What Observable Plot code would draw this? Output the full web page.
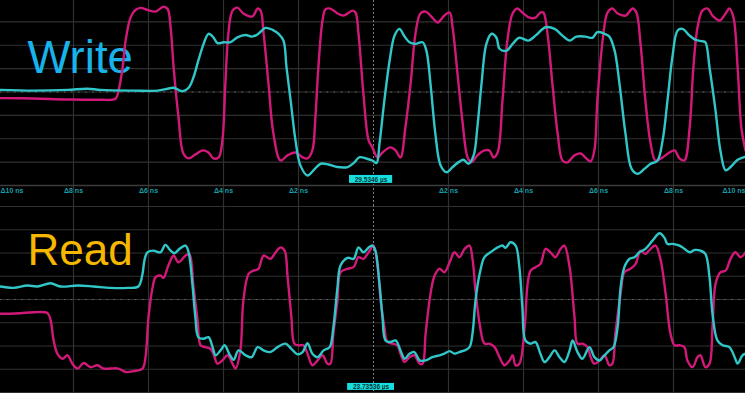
<!DOCTYPE html>
<html><head><meta charset="utf-8">
<script src="https://cdn.jsdelivr.net/npm/d3@7"></script>
<script src="https://cdn.jsdelivr.net/npm/@observablehq/plot@0.6"></script>
<style>
html,body{margin:0;padding:0;background:#000;}
#chart{width:745px;height:393px;overflow:hidden;background:#000;}
#chart svg{display:block;}
</style></head><body><div id="chart"></div>
<script>
// time in ns (relative to trigger), amplitude in divisions
const writeMagenta = [[-9.95,-0.26],[-9.07,-0.28],[-8.16,-0.32],[-7.28,-0.33],[-6.88,-0.29],[-6.80,0.06],[-6.69,1.05],[-6.61,2.20],[-6.48,3.18],[-6.35,3.51],[-6.21,3.60],[-6.03,3.51],[-5.81,3.44],[-5.60,3.65],[-5.49,3.55],[-5.41,2.76],[-5.33,1.05],[-5.20,-1.09],[-5.07,-2.63],[-4.93,-2.84],[-4.75,-2.67],[-4.56,-2.50],[-4.40,-2.59],[-4.27,-2.84],[-4.13,-2.80],[-4.03,-2.07],[-3.95,0.36],[-3.87,2.50],[-3.76,3.48],[-3.63,3.61],[-3.47,3.36],[-3.23,3.23],[-3.09,3.57],[-3.01,3.48],[-2.93,2.50],[-2.80,0.36],[-2.67,-1.77],[-2.48,-2.93],[-2.29,-2.71],[-2.08,-2.59],[-1.89,-2.80],[-1.76,-2.84],[-1.63,-2.50],[-1.55,-1.09],[-1.47,1.05],[-1.36,3.06],[-1.28,3.53],[-1.15,3.57],[-0.96,3.36],[-0.80,3.27],[-0.56,3.48],[-0.48,3.40],[-0.40,2.50],[-0.27,-0.06],[-0.13,-2.07],[-0.03,-2.37],[0.11,-2.80],[0.24,-2.59],[0.45,-2.37],[0.59,-2.50],[0.72,-2.80],[0.85,-1.52],[0.99,0.36],[1.12,2.50],[1.25,3.36],[1.39,3.44],[1.57,3.18],[1.71,2.97],[1.89,3.27],[2.03,3.40],[2.11,2.76],[2.24,0.79],[2.37,-1.22],[2.51,-2.80],[2.61,-3.01],[2.77,-2.71],[2.96,-2.50],[3.09,-2.50],[3.20,-2.80],[3.31,-2.59],[3.44,-0.36],[3.57,2.20],[3.71,3.36],[3.84,3.57],[3.97,3.40],[4.16,3.18],[4.32,3.18],[4.45,3.40],[4.53,3.40],[4.64,2.50],[4.77,0.36],[4.91,-1.77],[5.04,-2.93],[5.17,-3.01],[5.36,-2.71],[5.52,-2.63],[5.65,-2.80],[5.79,-2.97],[5.89,-2.50],[5.97,-0.36],[6.11,2.20],[6.24,3.40],[6.37,3.57],[6.51,3.36],[6.72,3.27],[6.91,3.57],[7.01,3.40],[7.12,2.07],[7.25,-0.36],[7.39,-2.20],[7.52,-2.93],[7.71,-2.80],[7.89,-2.59],[8.03,-2.50],[8.16,-2.84],[8.29,-2.93],[8.43,-1.52],[8.53,1.05],[8.64,2.76],[8.77,3.48],[8.91,3.57],[9.04,3.27],[9.23,3.06],[9.39,3.36],[9.49,3.57],[9.60,3.18],[9.71,1.05],[9.81,-1.52],[9.92,-2.50]];
const writeCyan = [[-9.95,0.09],[-9.07,0.06],[-8.16,0.09],[-7.63,0.14],[-7.28,0.09],[-6.40,0.06],[-5.76,0.06],[-5.49,0.14],[-5.33,0.18],[-5.09,0.03],[-4.93,0.18],[-4.80,0.63],[-4.67,1.35],[-4.53,2.06],[-4.40,2.49],[-4.27,2.34],[-4.16,2.09],[-4.00,2.13],[-3.81,2.13],[-3.63,2.34],[-3.41,2.44],[-3.23,2.37],[-3.07,2.49],[-2.88,2.74],[-2.69,2.66],[-2.53,2.49],[-2.40,2.20],[-2.32,1.06],[-2.21,-0.36],[-2.08,-2.07],[-1.95,-3.14],[-1.76,-3.57],[-1.60,-3.35],[-1.41,-3.07],[-1.20,-3.10],[-0.96,-3.21],[-0.69,-3.21],[-0.53,-3.04],[-0.37,-2.79],[-0.19,-2.85],[-0.03,-2.93],[0.08,-3.04],[0.16,-2.21],[0.29,-0.36],[0.43,1.35],[0.56,2.41],[0.69,2.70],[0.83,2.37],[0.96,2.13],[1.12,2.06],[1.31,2.13],[1.41,1.77],[1.52,0.35],[1.65,-1.79],[1.79,-3.14],[1.95,-3.43],[2.11,-3.21],[2.27,-3.00],[2.40,-2.90],[2.53,-3.07],[2.67,-2.71],[2.77,-1.50],[2.88,0.35],[3.01,2.06],[3.15,2.49],[3.28,2.32],[3.36,1.85],[3.55,1.77],[3.71,2.06],[3.89,2.32],[4.13,2.20],[4.32,2.41],[4.59,2.77],[4.83,2.70],[5.04,2.41],[5.23,2.20],[5.41,2.37],[5.65,2.37],[5.84,2.32],[5.97,2.56],[6.16,2.49],[6.29,2.37],[6.43,1.77],[6.56,0.35],[6.72,-1.79],[6.88,-3.28],[7.04,-3.50],[7.23,-3.28],[7.39,-3.07],[7.57,-2.94],[7.71,-2.07],[7.84,-0.36],[7.97,1.49],[8.11,2.63],[8.24,2.70],[8.43,2.41],[8.59,2.23],[8.77,2.17],[8.85,2.13],[8.96,1.06],[9.12,-0.79],[9.25,-2.50],[9.39,-3.35],[9.52,-3.21],[9.71,-2.90],[9.92,-2.76]];
const readMagenta = [[-9.95,-0.61],[-9.68,-0.61],[-9.41,-0.59],[-9.07,-0.55],[-8.69,-0.59],[-8.61,-0.90],[-8.53,-1.76],[-8.43,-2.33],[-8.29,-2.55],[-8.16,-2.40],[-8.03,-2.76],[-7.89,-2.97],[-7.73,-2.73],[-7.55,-2.91],[-7.36,-2.83],[-7.20,-2.97],[-7.01,-2.97],[-6.80,-2.97],[-6.61,-3.12],[-6.40,-3.08],[-6.16,-2.97],[-6.08,-2.48],[-6.00,-0.76],[-5.89,0.53],[-5.81,0.96],[-5.68,1.03],[-5.60,0.93],[-5.47,1.46],[-5.33,1.89],[-5.20,1.60],[-5.01,1.89],[-4.91,1.96],[-4.80,0.53],[-4.69,-0.90],[-4.61,-1.97],[-4.48,-2.05],[-4.35,-2.12],[-4.27,-2.33],[-4.16,-2.76],[-4.03,-2.62],[-3.89,-2.40],[-3.76,-2.76],[-3.68,-2.97],[-3.55,-2.19],[-3.47,-0.04],[-3.33,1.10],[-3.20,1.24],[-3.07,1.32],[-2.93,1.89],[-2.75,1.75],[-2.61,2.03],[-2.48,2.24],[-2.37,2.10],[-2.29,0.96],[-2.19,-0.76],[-2.11,-1.90],[-2.00,-1.97],[-1.87,-1.97],[-1.76,-2.33],[-1.63,-2.83],[-1.49,-2.62],[-1.36,-2.40],[-1.23,-2.76],[-1.15,-2.76],[-1.07,-1.47],[-0.96,-0.04],[-0.88,1.17],[-0.69,1.32],[-0.53,1.39],[-0.40,1.82],[-0.27,1.75],[-0.13,2.03],[0.00,2.32],[0.11,1.39],[0.19,-0.04],[0.29,-1.19],[0.37,-1.83],[0.51,-1.90],[0.64,-1.97],[0.72,-2.33],[0.83,-2.69],[0.96,-2.48],[1.09,-2.40],[1.23,-2.76],[1.31,-2.76],[1.39,-1.47],[1.52,0.24],[1.63,1.03],[1.76,1.32],[1.89,1.17],[2.03,1.60],[2.16,2.03],[2.29,1.82],[2.43,2.18],[2.56,2.32],[2.64,1.75],[2.72,0.39],[2.83,-1.04],[2.96,-1.90],[3.09,-1.90],[3.23,-2.05],[3.36,-2.48],[3.49,-2.83],[3.63,-2.62],[3.71,-2.40],[3.79,-2.83],[3.89,-2.76],[4.03,-1.19],[4.11,0.67],[4.19,1.24],[4.32,1.39],[4.45,1.53],[4.59,2.18],[4.72,2.03],[4.85,1.82],[4.99,2.18],[5.09,2.32],[5.23,1.39],[5.36,-0.76],[5.44,-1.90],[5.57,-1.90],[5.71,-2.05],[5.79,-2.48],[5.89,-2.76],[6.03,-2.62],[6.16,-2.40],[6.29,-2.83],[6.37,-2.76],[6.45,-1.47],[6.59,0.24],[6.69,1.17],[6.85,1.32],[6.99,1.53],[7.12,2.10],[7.25,1.96],[7.39,2.18],[7.52,2.32],[7.65,1.75],[7.79,0.24],[7.92,-1.47],[8.03,-1.97],[8.16,-1.97],[8.29,-2.05],[8.37,-2.62],[8.51,-2.91],[8.64,-2.48],[8.72,-2.40],[8.85,-2.91],[8.96,-2.76],[9.04,-1.19],[9.12,0.67],[9.25,1.17],[9.39,1.24],[9.52,1.75],[9.65,2.03],[9.79,1.82],[9.92,2.03]];
const readCyan = [[-9.95,0.56],[-9.60,0.50],[-9.23,0.60],[-8.96,0.56],[-8.61,0.70],[-8.35,0.56],[-7.89,0.60],[-7.47,0.56],[-7.01,0.50],[-6.56,0.50],[-6.27,0.56],[-6.16,1.10],[-6.11,1.67],[-6.03,2.03],[-5.87,2.10],[-5.68,2.03],[-5.55,2.35],[-5.41,2.10],[-5.31,1.99],[-5.17,2.18],[-5.01,2.32],[-4.93,2.03],[-4.83,0.67],[-4.75,-0.76],[-4.67,-1.62],[-4.53,-1.69],[-4.40,-1.62],[-4.29,-2.05],[-4.21,-2.40],[-4.08,-2.19],[-3.97,-1.97],[-3.84,-2.36],[-3.73,-2.59],[-3.60,-2.19],[-3.41,-2.40],[-3.25,-2.48],[-3.09,-2.05],[-2.93,-2.19],[-2.75,-2.26],[-2.56,-2.05],[-2.35,-1.90],[-2.19,-2.12],[-2.03,-2.36],[-1.89,-2.26],[-1.76,-1.88],[-1.63,-2.33],[-1.49,-2.48],[-1.33,-2.19],[-1.17,-2.05],[-1.07,-1.19],[-0.96,0.53],[-0.88,1.46],[-0.69,1.79],[-0.53,1.75],[-0.40,2.24],[-0.27,2.03],[-0.13,2.24],[-0.03,2.32],[0.05,2.10],[0.16,0.67],[0.24,-0.76],[0.32,-1.76],[0.45,-1.83],[0.59,-1.76],[0.72,-2.19],[0.83,-2.55],[0.96,-2.33],[1.09,-2.26],[1.23,-2.62],[1.39,-2.62],[1.57,-2.48],[1.76,-2.40],[1.89,-2.33],[2.03,-2.22],[2.16,-2.33],[2.29,-2.26],[2.43,-2.19],[2.56,-2.05],[2.64,-1.47],[2.72,-0.04],[2.83,1.10],[2.96,1.82],[3.12,2.03],[3.31,2.24],[3.44,2.32],[3.52,2.22],[3.65,2.46],[3.79,2.32],[3.89,1.39],[3.97,-0.33],[4.05,-1.76],[4.19,-1.90],[4.32,-1.83],[4.45,-2.33],[4.56,-2.69],[4.69,-2.48],[4.83,-2.19],[4.96,-2.48],[5.09,-2.69],[5.23,-2.19],[5.31,-1.76],[5.44,-2.26],[5.57,-2.55],[5.76,-2.05],[5.89,-2.48],[6.03,-2.62],[6.16,-2.40],[6.29,-2.19],[6.40,-2.05],[6.51,-1.19],[6.59,0.53],[6.69,1.39],[6.83,1.75],[6.96,1.82],[7.09,2.03],[7.25,2.18],[7.44,2.53],[7.63,2.85],[7.76,2.65],[7.84,2.39],[7.97,2.39],[8.16,2.32],[8.29,2.18],[8.43,2.03],[8.56,2.13],[8.72,2.10],[8.85,1.96],[8.96,0.96],[9.04,-0.61],[9.17,-1.76],[9.31,-1.97],[9.49,-2.05],[9.63,-2.48],[9.71,-2.76],[9.84,-2.40],[9.92,-2.33]];

const xGrid = [-10,-8,-6,-4,-2,2,4,6,8,10];
const xTicks = [-8,-6,-4,-2,2,4,6,8];
const xTickLabels = ["Δ8 ns","Δ6 ns","Δ4 ns","Δ2 ns","Δ2 ns","Δ4 ns","Δ6 ns","Δ8 ns"];
const xEdgeLabel = "Δ10 ns";
const yGrid = [-4,-3,-2,-1,1,2,3,4];
const panelTitles = ["Write","Read"];
const cursorLabels = ["29.5346 µs","23.73536 µs"];

const MAG = "#d2197a", CYAN = "#31c6c8", GRID = "#303030";
const toPts = a => a.map(([t, v]) => ({t, v}));
const FONT = "'Liberation Sans', Arial, sans-serif";

function panel({mag, cyan, height, yRange, title, titleColor, titleSize, titleDy, cursor, box, axis}) {
  const marks = [
    Plot.ruleX(xGrid, {stroke: GRID, strokeWidth: 1.2}),
    Plot.ruleY(yGrid, {stroke: GRID, strokeWidth: 1.2}),
    Plot.ruleY([0], {stroke: GRID, strokeWidth: 1.2}),
    Plot.ruleY([0], {stroke: "#6a6a6a", strokeWidth: 1, strokeDasharray: "1.5,5.6"}),
    Plot.ruleX([0], {stroke: "#7e7e7e", strokeWidth: 1, strokeDasharray: "2,2"}),
    Plot.text([title], {frameAnchor: "top-left", dx: 27, dy: titleDy, lineAnchor: "top", textAnchor: "start",
      fill: titleColor, fontSize: titleSize, fontFamily: FONT}),
    Plot.line(toPts(mag), {x: "t", y: "v", stroke: MAG, strokeWidth: 2.4, curve: "catmull-rom"}),
    Plot.line(toPts(cyan), {x: "t", y: "v", stroke: CYAN, strokeWidth: 2.4, curve: "catmull-rom"}),
    Plot.rect([cursor], {x1: box[0], x2: box[1], y1: box[2], y2: box[3], fill: "#16dede"}),
    Plot.text([cursor], {x: (box[0] + box[1]) / 2, y: (box[2] + box[3]) / 2, text: d => d, fill: "#043636",
      fontSize: 6.5, fontWeight: "bold", fontFamily: FONT, lineAnchor: "middle"})
  ];
  if (axis) {
    const lab = {y: -4, dy: 5.5, fill: "#1a9fa8", fontSize: 7, fontWeight: "bold", fontFamily: FONT, lineAnchor: "middle"};
    marks.push(
      Plot.ruleY([-4], {stroke: "#3c3c3c", strokeWidth: 1.4}),
      Plot.text(xTicks, {...lab, x: d => d, text: (d, i) => xTickLabels[i]}),
      Plot.text([xEdgeLabel], {...lab, x: -10, dx: 2, textAnchor: "start"}),
      Plot.text([xEdgeLabel], {...lab, x: 10, dx: -3, textAnchor: "end"})
    );
  }
  return Plot.plot({
    width: 745, height,
    marginTop: 0, marginBottom: 0, marginLeft: 0, marginRight: 0,
    style: {background: "#000", overflow: "hidden"},
    x: {domain: [-10, 10], range: [-2, 748], axis: null},
    y: {domain: [-4, 4], range: yRange, axis: null},
    marks
  });
}

const chart = document.getElementById("chart");
chart.append(panel({mag: writeMagenta, cyan: writeCyan, height: 205, yRange: [185, -2],
  title: panelTitles[0], titleColor: "#18b3ea", titleSize: 45.5, titleDy: 40,
  cursor: cursorLabels[0], box: [-0.64, 0.51, -3.57, -3.91], axis: true}));
chart.append(panel({mag: readMagenta, cyan: readCyan, height: 188, yRange: [187, 1],
  title: panelTitles[1], titleColor: "#f6b700", titleSize: 44, titleDy: 28,
  cursor: cursorLabels[1], box: [-0.69, 0.56, -3.61, -3.91], axis: false}));
</script></body></html>
